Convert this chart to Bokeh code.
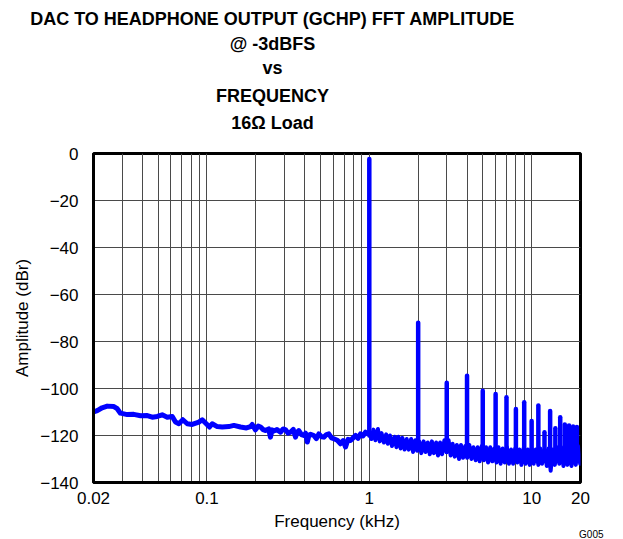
from bokeh.plotting import figure
from bokeh.models import FixedTicker
from bokeh.layouts import column
from bokeh.core.properties import value
from bokeh.embed import file_html
from bokeh.resources import INLINE

# ---------------- data ----------------
# noise floor below the fundamental (kHz, dBr)
low_khz = [0.020, 0.0211, 0.0226, 0.0243, 0.0267, 0.0280, 0.0293, 0.0323, 0.0354, 0.0390,
           0.0429, 0.0460, 0.0494, 0.0530, 0.0569, 0.0611, 0.0640, 0.0671, 0.0710, 0.0756,
           0.0811, 0.0891, 0.0935, 0.0990, 0.1037, 0.1077, 0.1157, 0.1242, 0.1364, 0.1464,
           0.161, 0.175, 0.1855, 0.190, 0.199, 0.207, 0.214, 0.222, 0.229, 0.240,
           0.246, 0.252, 0.258, 0.270, 0.284, 0.295, 0.305, 0.316, 0.327, 0.340,
           0.351, 0.360, 0.368, 0.382, 0.395, 0.405, 0.415, 0.425, 0.435, 0.455,
           0.472, 0.489, 0.507, 0.525, 0.545, 0.563, 0.585, 0.605, 0.635, 0.665,
           0.690, 0.714, 0.740, 0.766, 0.795, 0.823, 0.853, 0.883, 0.915, 0.948, 0.980]
low_dbr = [-110.0, -109.4, -108.2, -107.5, -107.7, -108.6, -110.5, -111.1, -111.0, -111.6,
           -111.5, -112.2, -111.9, -111.2, -112.2, -111.9, -114.3, -115.0, -113.3, -115.0,
           -115.3, -114.3, -113.3, -115.0, -116.4, -115.0, -116.2, -116.4, -116.2, -115.7,
           -116.4, -116.8, -116.2, -115.3, -117.6, -116.0, -116.4, -117.5, -117.9, -117.2,
           -120.7, -117.6, -118.1, -117.5, -118.6, -117.2, -117.6, -119.0, -118.6, -117.4,
           -120.7, -118.6, -117.9, -119.6, -120.0, -119.0, -122.8, -119.8, -119.5, -120.0,
           -121.3, -119.3, -120.5, -120.7, -119.6, -119.3, -121.0, -121.4, -122.0, -123.5,
           -122.2, -124.9, -121.6, -122.1, -121.0, -120.0, -121.2, -119.3, -120.2, -118.6, -119.5]

# noise floor above the fundamental (kHz, dBr)
high_khz = [1.00, 1.03, 1.06, 1.09, 1.13, 1.16, 1.19, 1.23, 1.27, 1.30,
            1.34, 1.38, 1.43, 1.47, 1.51, 1.56, 1.60, 1.65, 1.70, 1.75,
            1.81, 1.86, 1.92, 1.97, 2.03, 2.09, 2.16, 2.22, 2.29, 2.36,
            2.43, 2.50, 2.58, 2.65, 2.73, 2.81, 2.90, 2.99, 3.08, 3.17,
            3.26, 3.36, 3.46, 3.57, 3.67, 3.78, 3.90, 4.01, 4.13, 4.26,
            4.38, 4.52, 4.65, 4.79, 4.93, 5.08, 5.24, 5.39, 5.56, 5.72,
            5.89, 6.07, 6.25, 6.44, 6.63, 6.83, 7.04, 7.25, 7.47, 7.69,
            7.92, 8.16, 8.40, 8.65, 8.91, 9.18, 9.46, 9.74, 10.0, 10.3,
            10.6, 11.0, 11.3, 11.6, 12.0, 12.4, 12.7, 13.1, 13.5, 13.9,
            14.3, 14.8, 15.2, 15.7, 16.1, 16.6, 17.1, 17.6, 18.2, 18.7,
            19.3, 19.9, 20.0]
high_dbr = [-119.0, -121.5, -117.5, -122.0, -117.2, -122.5, -119.0, -123.0, -119.5, -123.5,
            -120.0, -124.5, -120.5, -125.0, -120.5, -125.5, -121.0, -126.0, -121.5, -126.0,
            -121.5, -127.0, -122.0, -126.5, -122.5, -127.5, -122.5, -127.0, -123.0, -128.0,
            -122.5, -127.5, -123.0, -128.5, -123.0, -128.0, -122.0, -127.0, -122.0, -128.5,
            -123.5, -129.0, -124.0, -130.0, -124.0, -129.5, -124.5, -129.5, -124.0, -130.0,
            -125.0, -130.5, -125.0, -131.0, -124.5, -130.5, -125.0, -131.5, -125.0, -131.0,
            -125.5, -131.5, -125.0, -132.0, -125.5, -131.5, -125.0, -132.0, -126.0, -132.0,
            -125.5, -131.5, -126.0, -132.5, -125.5, -132.0, -126.0, -132.5, -125.5, -132.0,
            -126.0, -132.5, -125.5, -132.0, -126.0, -133.0, -125.5, -135.0, -126.0, -132.5,
            -125.0, -132.0, -125.0, -133.0, -124.5, -132.5, -124.5, -133.0, -124.0, -132.5,
            -124.5, -132.0, -128.0]

# fundamental and harmonics (kHz, base dBr, peak dBr)
harm_khz = [1, 2, 3, 4, 5, 6, 7, 8, 9, 10, 11, 12, 13, 14, 15, 16, 17, 18, 19]
harm_base = [-120, -126, -127, -127, -128, -128, -128, -128, -128, -128,
             -128, -128, -128, -128, -128, -128, -128, -128, -128]
harm_peak = [-2.3, -72.0, -97.6, -94.6, -101.0, -102.3, -103.7, -108.7, -105.8, -113.8,
             -107.2, -118.6, -109.6, -116.9, -112.2, -115.3, -115.7, -116.2, -116.4]

x_ticks = [0.02, 0.1, 1, 10, 20]
x_tick_labels = ["0.02", "0.1", "1", "10", "20"]
x_grid = [0.03, 0.04, 0.05, 0.06, 0.07, 0.08, 0.09,
          0.1, 0.2, 0.3, 0.4, 0.5, 0.6, 0.7, 0.8, 0.9,
          1, 2, 3, 4, 5, 6, 7, 8, 9, 10]
y_ticks = [-140, -120, -100, -80, -60, -40, -20, 0]

title_lines = ["DAC TO HEADPHONE OUTPUT (GCHP) FFT AMPLITUDE",
               "@ -3dBFS", "vs", "FREQUENCY", "16\u03a9 Load"]
x_title = "Frequency (kHz)"
y_title = "Amplitude (dBr)"
figure_code = "G005"

FONT = "Liberation Sans"
W = 623


def strip(height):
    """A bare figure whose frame is the whole canvas, in pixel units (y up)."""
    f = figure(width=W, height=height, x_range=(0, W), y_range=(0, height),
               output_backend="svg", toolbar_location=None,
               x_axis_location=None, y_axis_location=None,
               min_border=0, min_border_left=0, min_border_right=0,
               min_border_top=0, min_border_bottom=0)
    f.grid.visible = False
    f.outline_line_color = None
    f.background_fill_color = "white"
    f.border_fill_color = "white"
    if "frame_align" in f.properties():
        f.frame_align = False
    return f


# ---------------- title strip ----------------
top = strip(145)
top.text(x=[272] * len(title_lines), y=[126.1, 101.8, 77.6, 49.9, 22.6], text=title_lines,
         text_align="center", text_baseline="alphabetic",
         text_font=value(FONT), text_font_size="18px", text_font_style="bold",
         text_color="black")

# ---------------- main chart ----------------
p = figure(width=W, height=367, x_axis_type="log",
           x_range=(0.02, 20), y_range=(-140, 0),
           output_backend="svg", toolbar_location=None,
           min_border_left=93, min_border_right=43,
           min_border_top=8, min_border_bottom=30)
if "frame_align" in p.properties():
    p.frame_align = False

p.background_fill_color = "white"
p.border_fill_color = "white"
p.outline_line_color = "black"
p.outline_line_width = 3

p.xgrid.ticker = FixedTicker(ticks=x_grid)
p.xgrid.grid_line_color = "#4a4a4a"
p.xgrid.grid_line_width = 1
p.ygrid.ticker = FixedTicker(ticks=y_ticks)
p.ygrid.grid_line_color = "#4a4a4a"
p.ygrid.grid_line_width = 1

p.xaxis.ticker = FixedTicker(ticks=x_ticks)
p.xaxis.major_label_overrides = {t: l for t, l in zip(x_ticks, x_tick_labels)}
p.yaxis.ticker = FixedTicker(ticks=y_ticks)
p.yaxis.major_label_overrides = {t: str(t).replace("-", "\u2212") for t in y_ticks}
for ax in (p.xaxis[0], p.yaxis[0]):
    ax.axis_line_color = "black"
    ax.axis_line_width = 3
    ax.major_tick_line_color = None
    ax.minor_tick_line_color = None
    ax.major_label_text_font = FONT
    ax.major_label_text_font_size = "17px"
    ax.major_label_text_color = "black"
    ax.axis_label_text_font = FONT
    ax.axis_label_text_font_size = "17px"
    ax.axis_label_text_font_style = "normal"
    ax.axis_label_text_color = "black"

p.xaxis.major_label_standoff = 3
p.yaxis.axis_label = y_title
p.yaxis.major_label_standoff = 9
p.yaxis.axis_label_standoff = 5

p.line(low_khz, low_dbr, line_color="#0000ff", line_width=5, line_join="round")
p.line(high_khz, high_dbr, line_color="#0000ff", line_width=4, line_join="round")
p.segment(x0=harm_khz, y0=harm_base, x1=harm_khz, y1=harm_peak,
          line_color="#0000ff", line_width=4.5, line_cap="round")

# ---------------- bottom strip ----------------
bot = strip(27)
bot.text(x=[336.5], y=[18], text=[x_title], text_align="center", text_baseline="middle",
         text_font=value(FONT), text_font_size="17px", text_color="black")
bot.text(x=[603], y=[5], text=[figure_code], text_align="right", text_baseline="alphabetic",
         text_font=value(FONT), text_font_size="10px", text_color="black")

layout = column(top, p, bot, spacing=0)
open("out.html", "w").write(file_html(layout, INLINE))
